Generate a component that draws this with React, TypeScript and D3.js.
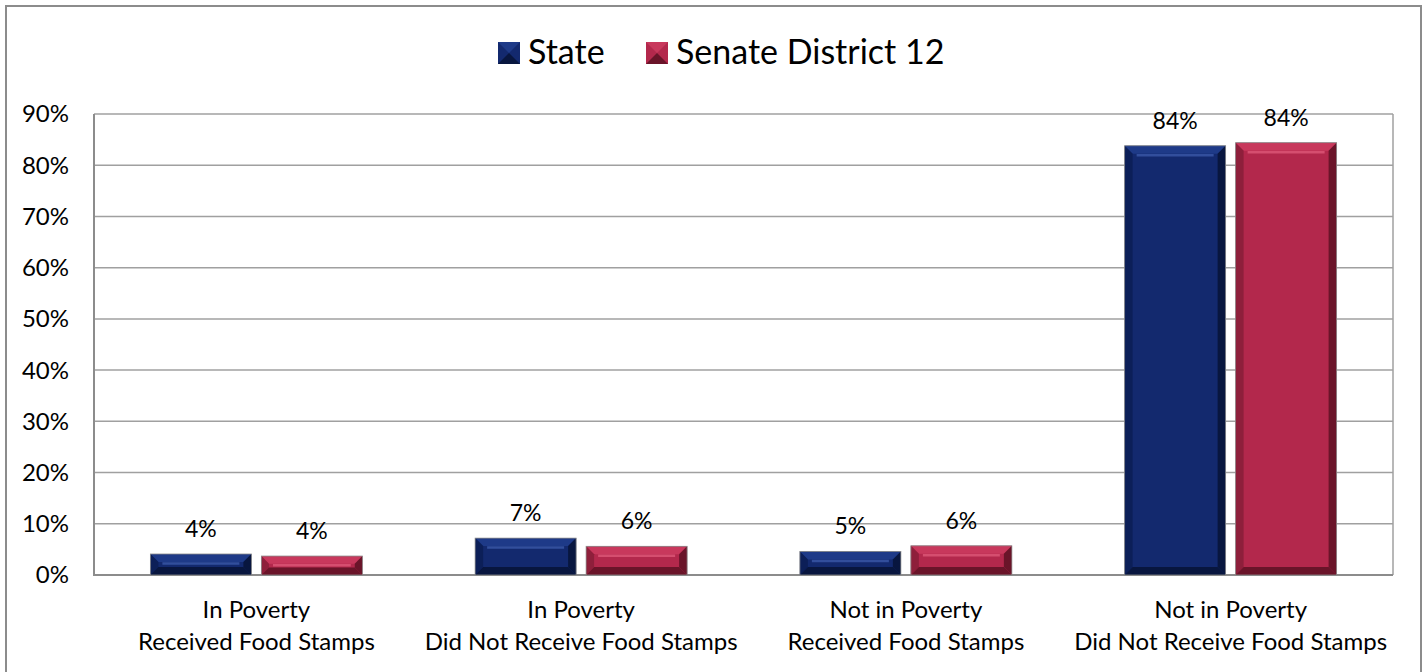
import React from "react";
import * as d3 from "d3";

const categories = [
  ["In Poverty", "Received Food Stamps"],
  ["In Poverty", "Did Not Receive Food Stamps"],
  ["Not in Poverty", "Received Food Stamps"],
  ["Not in Poverty", "Did Not Receive Food Stamps"],
];
const seriesNames = ["State", "Senate District 12"];
const stateValues = [0.041, 0.072, 0.046, 0.838];
const districtValues = [0.037, 0.056, 0.057, 0.844];
const yTicks = [0, 0.1, 0.2, 0.3, 0.4, 0.5, 0.6, 0.7, 0.8, 0.9];

const palettes = [
  { base: "#13296e", light: "#3a58a8", mid: "#1e3a88", dark: "#08163f", side: "#0c1f58" },
  { base: "#b3284c", light: "#de5878", mid: "#c8385c", dark: "#6a1429", side: "#8e1f3b" },
];

const FONT = "Lato, 'Open Sans', sans-serif";

export default function App() {
  const W = 1426, H = 672;
  const left = 94, right = 1393, top = 114, bottom = 575;
  const keys = categories.map((c) => c.join(" / "));
  const x0 = d3.scaleBand<string>().domain(keys).range([left, right]).paddingInner(0).paddingOuter(0);
  const x1 = d3.scaleBand<string>().domain(seriesNames).range([0, x0.bandwidth()]).paddingInner(0.09).paddingOuter(0.508);
  const y = d3.scaleLinear().domain([0, 0.9]).range([bottom, top]);
  const fmt = d3.format(".0%");
  const series = [stateValues, districtValues];

  const bevel = (x: number, yt: number, w: number, h: number, p: typeof palettes[0], key: string) => {
    const b = Math.min(8, h / 2.5);
    const x2 = x + w, y2 = yt + h;
    return (
      <g key={key}>
        <rect x={x} y={yt} width={w} height={h} fill={p.base} />
        <polygon points={`${x},${yt} ${x2},${yt} ${x2 - b},${yt + b} ${x + b},${yt + b}`} fill={p.mid} />
        <polygon points={`${x},${yt} ${x + b},${yt + b} ${x + b},${y2 - b} ${x},${y2}`} fill={p.side} />
        <polygon points={`${x2},${yt} ${x2},${y2} ${x2 - b},${y2 - b} ${x2 - b},${yt + b}`} fill={p.dark} />
        <polygon points={`${x},${y2} ${x + b},${y2 - b} ${x2 - b},${y2 - b} ${x2},${y2}`} fill={p.dark} />
        <line x1={x + b + 4} x2={x2 - b - 4} y1={yt + b + 1.5} y2={yt + b + 1.5} stroke={p.light} strokeWidth={2.5} opacity={0.8} />
        <rect x={x} y={yt} width={w} height={h} fill="none" stroke="#8a8a8a" strokeWidth={0.8} />
      </g>
    );
  };

  return (
    <svg width={W} height={H} style={{ position: "absolute", left: 0, top: 0, background: "#fff" }} fontFamily={FONT}>
      <rect x={0} y={0} width={W} height={H} fill="#fff" />
      <path d={`M6,${H + 2} V6 H1421 V${H + 2}`} fill="none" stroke="#8c8c8c" strokeWidth={2} />
      {/* legend */}
      <g>
        <rect x={498} y={42} width={22} height={22} fill={palettes[0].base} />
        <polygon points="498,42 520,42 509,53" fill={palettes[0].mid} />
        <polygon points="498,64 520,64 509,53" fill={palettes[0].dark} />
        <text x={528} y={64} fontSize={34} fill="#000">{seriesNames[0]}</text>
        <rect x={646} y={42} width={22} height={22} fill={palettes[1].base} />
        <polygon points="646,42 668,42 657,53" fill={palettes[1].mid} />
        <polygon points="646,64 668,64 657,53" fill={palettes[1].dark} />
        <text x={676} y={64} fontSize={34} fill="#000">{seriesNames[1]}</text>
      </g>
      {/* gridlines */}
      {yTicks.map((t) => (
        <line key={t} x1={left} x2={right} y1={y(t)} y2={y(t)} stroke="#a0a0a0" strokeWidth={1.5} />
      ))}
      <line x1={right} x2={right} y1={top} y2={bottom} stroke="#a0a0a0" strokeWidth={1.5} />
      <line x1={left} x2={left} y1={top} y2={bottom + 1} stroke="#8c8c8c" strokeWidth={2} />
      <line x1={left} x2={right} y1={bottom} y2={bottom} stroke="#8c8c8c" strokeWidth={2} />
      {yTicks.map((t) => (
        <text key={"l" + t} x={69} y={y(t)} dy="0.35em" textAnchor="end" fontSize={24} fill="#000">
          {fmt(t)}
        </text>
      ))}
      {/* bars */}
      {keys.map((k, i) => (
        <g key={k}>
          {seriesNames.map((s, j) => {
            const v = series[j][i];
            const bx = (x0(k) as number) + (x1(s) as number);
            const bw = x1.bandwidth();
            const yt = y(v);
            return (
              <g key={s}>
                {bevel(bx, yt, bw, bottom - yt, palettes[j], s)}
                <text x={bx + bw / 2} y={yt - 17} textAnchor="middle" fontSize={23} fill="#000">
                  {fmt(v)}
                </text>
              </g>
            );
          })}
          <text x={(x0(k) as number) + x0.bandwidth() / 2} y={618} textAnchor="middle" fontSize={24} fill="#000">
            {categories[i][0]}
          </text>
          <text x={(x0(k) as number) + x0.bandwidth() / 2} y={650} textAnchor="middle" fontSize={24} fill="#000">
            {categories[i][1]}
          </text>
        </g>
      ))}
    </svg>
  );
}
